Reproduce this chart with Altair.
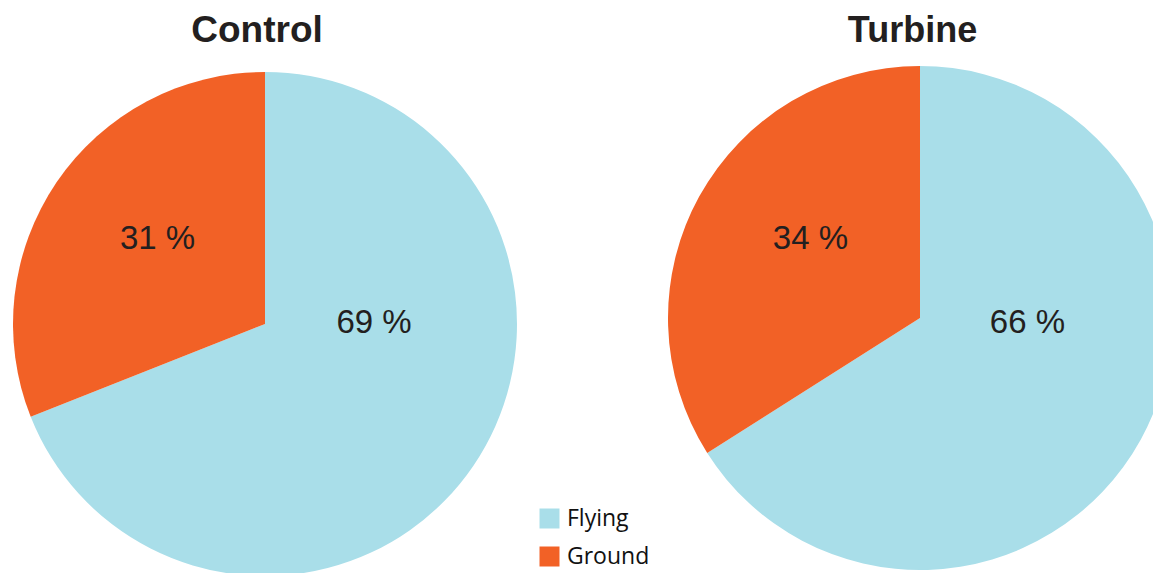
import altair as alt
import pandas as pd

# ---- data ----
groups = ["Control", "Turbine"]
categories = ["Flying", "Ground"]
control_values = [69, 31]
turbine_values = [66, 34]
colors = ["#A9DEE9", "#F26126"]


def pie_df(values):
    return pd.DataFrame({
        "category": categories,
        "value": values,
        "order": list(range(len(categories))),
        "label": [f"{v} %" for v in values],
    })


frames = {"Control": pie_df(control_values), "Turbine": pie_df(turbine_values)}

# ---- styling / layout ----
R = 252
centers = {"Control": (257, 316), "Turbine": (912, 310)}
# (radius, dx, dy) for the slice labels, alphabetic baseline
label_style = {
    "Control": {"Flying": (107, 20.5, -51), "Ground": (137, 5.8, 2)},
    "Turbine": {"Flying": (107, 13.7, -36.5), "Ground": (137, 10.5, -3)},
}
title_style = {"Control": (249, 34, 37), "Turbine": (904.5, 34, 36)}

color_scale = alt.Scale(domain=categories, range=colors)
legend = alt.Legend(
    title=None, orient="none", legendX=530, legendY=499,
    symbolType="square", symbolSize=400, symbolStrokeWidth=0,
    labelFont="Open Sans", labelFontSize=23, labelColor="#111111",
    labelOffset=6, rowPadding=14, padding=0, symbolOpacity=1,
)

layers = []
for g in groups:
    cx, cy = centers[g]
    base = alt.Chart(frames[g])
    arc = base.mark_arc(radius=R, strokeWidth=0).encode(
        theta=alt.Theta("value:Q", stack=True),
        color=alt.Color("category:N", scale=color_scale, legend=legend),
        order=alt.Order("order:Q"),
        x=alt.value(cx),
        y=alt.value(cy),
    )
    layers.append(arc)
    for cat in categories:
        r, dx, dy = label_style[g][cat]
        txt = base.mark_text(
            radius=r, dx=dx, dy=dy, font="Liberation Sans", fontSize=33,
            color="#231F20", baseline="alphabetic", align="center",
        ).encode(
            theta=alt.Theta("value:Q", stack=True),
            order=alt.Order("order:Q"),
            text=alt.condition(f"datum.category === '{cat}'", alt.Text("label:N"), alt.value("")),
            x=alt.value(cx),
            y=alt.value(cy),
        )
        layers.append(txt)
    tx, ty, fs = title_style[g]
    title = alt.Chart(pd.DataFrame({"group": [g]})).mark_text(
        font="Liberation Sans", fontSize=fs, fontWeight="bold", color="#231F20",
        baseline="alphabetic", align="center",
    ).encode(text="group:N", x=alt.value(tx), y=alt.value(ty))
    layers.append(title)

chart = alt.layer(*layers).properties(
    width=1145, height=565, autosize="none", padding=0,
).configure_view(stroke=None)

chart.save("out.html", embed_options={"renderer": "svg", "actions": False})
